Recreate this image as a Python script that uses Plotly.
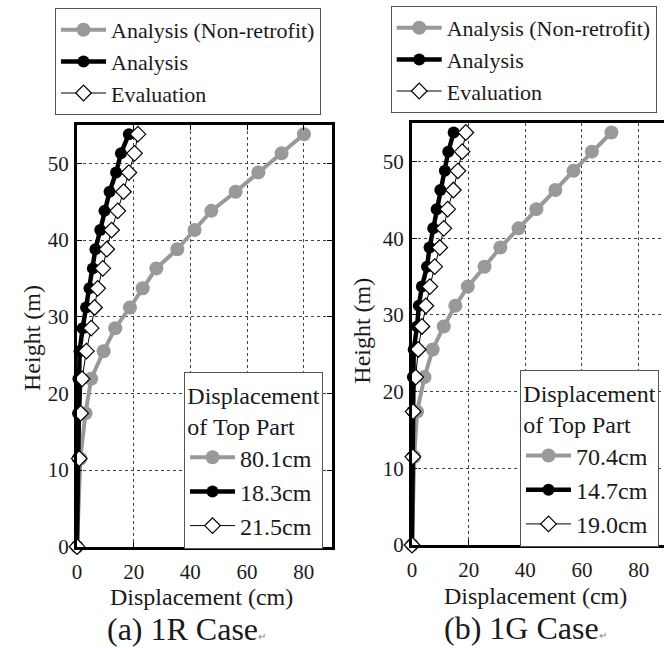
import plotly.graph_objects as go

# ---------------- data ----------------
heights = [0, 11.5, 17.4, 21.9, 25.5, 28.5, 31.2, 33.7, 36.3, 38.8, 41.3, 43.8, 46.3, 48.8, 51.3, 53.8]

# (a) 1R case
r1_nonretrofit = [0, 1.2, 3.0, 5.0, 9.4, 13.5, 18.7, 23.2, 28.0, 35.4, 41.5, 47.4, 56.0, 64.0, 72.2, 80.1]
r1_analysis = [0, 0.3, 0.4, 0.5, 0.9, 2.0, 3.2, 4.4, 5.6, 6.5, 8.2, 9.7, 11.5, 13.8, 15.5, 18.3]
r1_evaluation = [0, 0.8, 1.3, 1.8, 3.3, 5.0, 6.2, 7.3, 9.1, 10.5, 12.2, 14.4, 16.4, 18.3, 20.3, 21.5]

# (b) 1G case
g1_nonretrofit = [0, 0.8, 1.8, 4.4, 7.3, 11.2, 15.3, 19.7, 25.6, 31.2, 37.6, 43.9, 50.6, 57.0, 63.5, 70.4]
g1_analysis = [0, 0.1, 0.2, 0.3, 0.6, 1.8, 2.4, 3.5, 5.3, 6.2, 7.5, 8.7, 10.0, 11.6, 12.8, 14.7]
g1_evaluation = [0, 0.3, 0.4, 1.3, 2.2, 3.5, 4.9, 6.3, 8.0, 9.8, 11.2, 12.6, 14.6, 16.2, 17.7, 19.0]

series_names = ["Analysis (Non-retrofit)", "Analysis", "Evaluation"]
top_labels_a = ["80.1cm", "18.3cm", "21.5cm"]
top_labels_b = ["70.4cm", "14.7cm", "19.0cm"]
x_ticks = [0, 20, 40, 60, 80]
y_ticks = [0, 10, 20, 30, 40, 50]

FONT = "Liberation Serif, Times New Roman, serif"
TXT = "#1a1a1a"
GRAY = "#999999"

styles = [
    dict(mode="lines+markers", line=dict(color=GRAY, width=4),
         marker=dict(symbol="circle", size=14, color=GRAY)),
    dict(mode="lines+markers", line=dict(color="black", width=4.5),
         marker=dict(symbol="circle", size=12, color="black")),
    dict(mode="lines+markers", line=dict(color="black", width=1),
         marker=dict(symbol="diamond", size=12, color="white",
                     line=dict(color="black", width=1.2))),
]

fig = go.Figure()

panels = [
    ("x", "y", [r1_nonretrofit, r1_analysis, r1_evaluation], "legend3", top_labels_a, "legend"),
    ("x2", "y2", [g1_nonretrofit, g1_analysis, g1_evaluation], "legend4", top_labels_b, "legend2"),
]

for xa, ya, vals, inset_leg, inset_labels, top_leg in panels:
    for v, st in zip(vals, styles):
        fig.add_trace(go.Scatter(x=v, y=heights, xaxis=xa, yaxis=ya,
                                 showlegend=False, cliponaxis=False, **st))
    for name, st in zip(series_names, styles):
        fig.add_trace(go.Scatter(x=[None], y=[None], xaxis=xa, yaxis=ya, name=name,
                                 legend=top_leg, showlegend=True, **st))
    for name, st in zip(inset_labels, styles):
        fig.add_trace(go.Scatter(x=[None], y=[None], xaxis=xa, yaxis=ya, name=name,
                                 legend=inset_leg, showlegend=True, **st))

W, H = 664, 648


def px_x(p):
    return p / W


def px_y(p):
    return 1 - p / H


axis_common = dict(
    showgrid=True, gridcolor="#444444", griddash="dot", gridwidth=1,
    zeroline=False, showline=True, linecolor="black", linewidth=3,
    ticks="inside", ticklen=5, tickcolor="black", tickwidth=1,
    tickfont=dict(family=FONT, size=21, color=TXT),
)

fig.update_layout(
    width=W, height=H,
    margin=dict(l=0, r=0, t=0, b=0, autoexpand=False),
    paper_bgcolor="white", plot_bgcolor="white",
    font=dict(family=FONT, color=TXT),
    xaxis=dict(domain=[px_x(77), px_x(332)], range=[0, 90], tickvals=x_ticks,
               mirror="ticks", anchor="y", ticklabelstandoff=4, **axis_common),
    yaxis=dict(domain=[px_y(546.7), px_y(125)], range=[0, 55], tickvals=y_ticks,
               mirror="ticks", anchor="x", ticklabelstandoff=1, **axis_common),
    xaxis2=dict(domain=[px_x(412), 1.0], range=[0, (W - 412) / 2.833], tickvals=x_ticks,
                mirror=True, anchor="y2", ticklabelstandoff=4, **axis_common),
    yaxis2=dict(domain=[px_y(545), px_y(123.3)], range=[0, 55], tickvals=y_ticks,
                mirror=False, anchor="x2", ticklabelstandoff=1, **axis_common),
)

top_leg_common = dict(
    xanchor="left", yanchor="top", bgcolor="white", bordercolor="#555555", borderwidth=1,
    font=dict(family=FONT, size=22, color=TXT), itemwidth=45, tracegroupgap=0,
)
inset_leg_common = dict(
    xanchor="left", yanchor="top", bgcolor="white", bordercolor="#555555", borderwidth=1,
    font=dict(family=FONT, size=24, color=TXT), itemwidth=45, tracegroupgap=0,
    title=dict(text="Displacement<br>of Top Part", side="top center",
               font=dict(family=FONT, size=24, color=TXT)),
)
fig.update_layout(
    legend=dict(x=px_x(55), y=px_y(8), **top_leg_common),
    legend2=dict(x=px_x(390.7), y=px_y(6), **top_leg_common),
    legend3=dict(x=px_x(184), y=px_y(371.7), **inset_leg_common),
    legend4=dict(x=px_x(520), y=px_y(370), **inset_leg_common),
)

ann_font = dict(family=FONT, size=24, color=TXT)
annotations = [
    dict(text="Height (m)", x=px_x(32), y=px_y(338), textangle=-90, font=ann_font),
    dict(text="Height (m)", x=px_x(361.7), y=px_y(331), textangle=-90, font=ann_font),
    dict(text="Displacement (cm)", x=px_x(201), y=px_y(597), font=ann_font),
    dict(text="Displacement (cm)", x=px_x(535), y=px_y(596), font=ann_font),
    dict(text="(a) 1R Case<span style='font-size:10px;fill:#888'>\u21b5</span>", x=px_x(186), y=px_y(629),
         font=dict(family=FONT, size=32, color=TXT)),
    dict(text="(b) 1G Case<span style='font-size:10px;fill:#888'>\u21b5</span>", x=px_x(525), y=px_y(628),
         font=dict(family=FONT, size=32, color=TXT)),
]
for a in annotations:
    a.update(xref="paper", yref="paper", showarrow=False, xanchor="center", yanchor="middle")
fig.update_layout(annotations=annotations)

fig.write_html("out.html")
